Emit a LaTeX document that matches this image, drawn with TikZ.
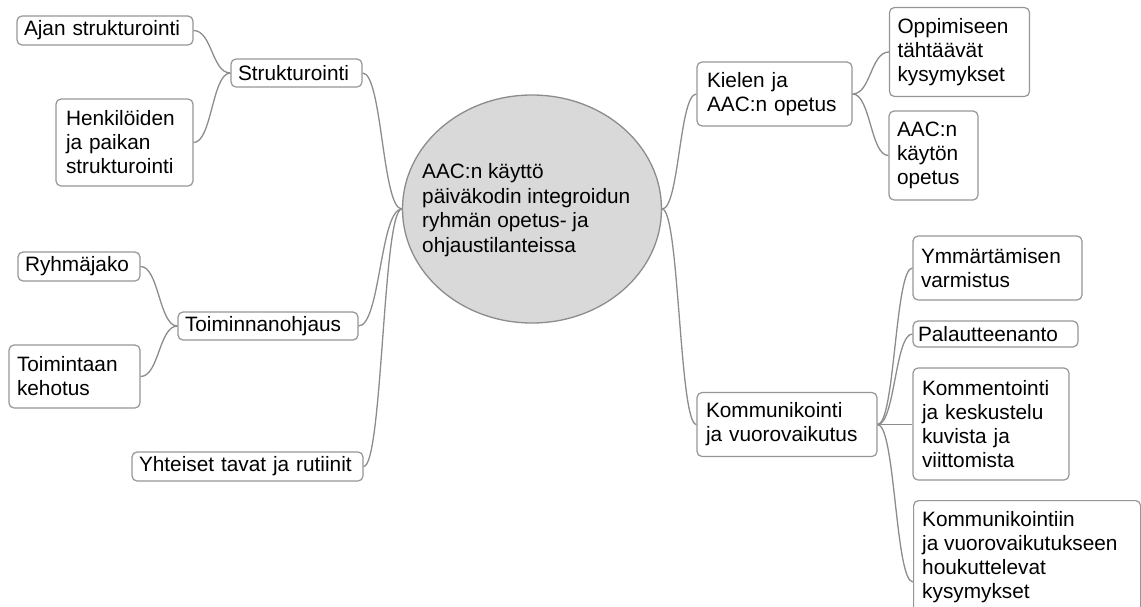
\documentclass[tikz,border=0pt]{standalone}
\usepackage{fontspec}
\setmainfont{Liberation Sans}
\usetikzlibrary{shapes.geometric,calc}
\definecolor{linegray}{RGB}{140,140,140}
\definecolor{boxgray}{RGB}{150,150,150}
\definecolor{ellfill}{RGB}{217,217,217}
\tikzset{
  topic/.style={draw=boxgray, line width=1.2pt, rounded corners=5pt, rectangle, align=left,
    inner xsep=7pt, inner ysep=0pt, fill=white, font=\fontsize{20.8}{24}\selectfont},
  link/.style={draw=linegray, line width=1.3pt},
  central/.style={ellipse, draw=linegray, line width=1.3pt, fill=ellfill, minimum width=259pt, minimum height=228pt, inner sep=0pt}
}
\newcommand{\scurve}[2]{\draw[link] let \p1=(#1), \p2=(#2) in (\p1) .. controls ({(\x1+\x2)/2},\y1) and ({(\x1+\x2)/2},\y2) .. (\p2);}
\begin{document}
\begin{tikzpicture}[x=1pt,y=-1pt]
\useasboundingbox (0,0) rectangle (1141,606);
\begin{scope}
\clip (0,0) rectangle (1141,606);
% central
\node[central] (c) at (532,209) {};
\node[align=left, inner sep=0pt, font=\fontsize{20.8}{24.7}\selectfont, anchor=west] (ct) at (422,210) {AAC:n käyttö\\päiväkodin integroidun\\ryhmän opetus- ja\\ohjaustilanteissa};
% left
\node[topic, minimum width=131pt, minimum height=28pt, text width=117pt] (s) at (296.5,73) {Strukturointi};
\node[topic, minimum width=176pt, minimum height=29pt, text width=162pt] (s1) at (105,30.5) {Ajan strukturointi};
\node[topic, minimum width=137pt, minimum height=87pt, text width=117pt, inner xsep=10pt] (s2) at (124.5,142.5) {Henkilöiden\\ja paikan\\strukturointi};
\node[topic, minimum width=180pt, minimum height=28pt, text width=166pt] (t) at (268,326) {Toiminnanohjaus};
\node[topic, minimum width=122pt, minimum height=29pt, text width=108pt] (t1) at (79,266.5) {Ryhmäjako};
\node[topic, minimum width=131pt, minimum height=63pt, text width=115pt, inner xsep=8pt] (t2) at (74.5,376.5) {Toimintaan\\kehotus};
\node[topic, minimum width=231pt, minimum height=29pt, text width=217pt] (y) at (247.5,466.5) {Yhteiset tavat ja rutiinit};
% right
\node[topic, minimum width=155pt, minimum height=64pt, text width=135pt, inner xsep=10pt] (k) at (774.5,94) {Kielen ja\\AAC:n opetus};
\node[topic, minimum width=140pt, minimum height=89pt, text width=124pt, inner xsep=8pt] (k1) at (959.5,52) {Oppimiseen\\tähtäävät\\kysymykset};
\node[topic, minimum width=89pt, minimum height=89pt, text width=73pt, inner xsep=8pt] (k2) at (933.5,155.5) {AAC:n\\käytön\\opetus};
\node[topic, minimum width=180pt, minimum height=64pt, text width=162pt, inner xsep=9pt] (m) at (787,424.5) {Kommunikointi\\ja vuorovaikutus};
\node[topic, minimum width=169pt, minimum height=64pt, text width=153pt, inner xsep=8pt] (m1) at (997.5,268) {Ymmärtämisen\\varmistus};
\node[topic, minimum width=165pt, minimum height=26pt, text width=155pt, inner xsep=5pt] (m2) at (995.5,334) {Palautteenanto};
\node[topic, minimum width=156pt, minimum height=112pt, text width=138pt, inner xsep=9pt] (m3) at (991,424) {Kommentointi\\ja keskustelu\\kuvista ja\\viittomista};
\node[topic, minimum width=227pt, minimum height=140pt, anchor=north west] (m4) at (913,500) {};
\node[align=left, inner sep=0pt, anchor=north west, font=\fontsize{20.8}{24}\selectfont] (m4t) at (922,511) {Kommunikointiin\\ja vuorovaikutukseen\\houkuttelevat\\kysymykset};
% connection points
\coordinate (cw) at (c.west);
\coordinate (ce) at (c.east);
\coordinate (m4w) at (913,582);
% left connectors
\scurve{s.east}{cw}
\scurve{t.east}{cw}
\scurve{y.east}{cw}
\scurve{s1.east}{s.west}
\scurve{s2.east}{s.west}
\scurve{t1.east}{t.west}
\scurve{t2.east}{t.west}
% right connectors
\scurve{ce}{k.west}
\scurve{ce}{m.west}
\scurve{k.east}{k1.west}
\scurve{k.east}{k2.west}
\scurve{m.east}{m1.west}
\scurve{m.east}{m2.west}
\draw[link] (m.east) -- (m3.west |- m.east);
\scurve{m.east}{m4w}
\end{scope}
\end{tikzpicture}
\end{document}
